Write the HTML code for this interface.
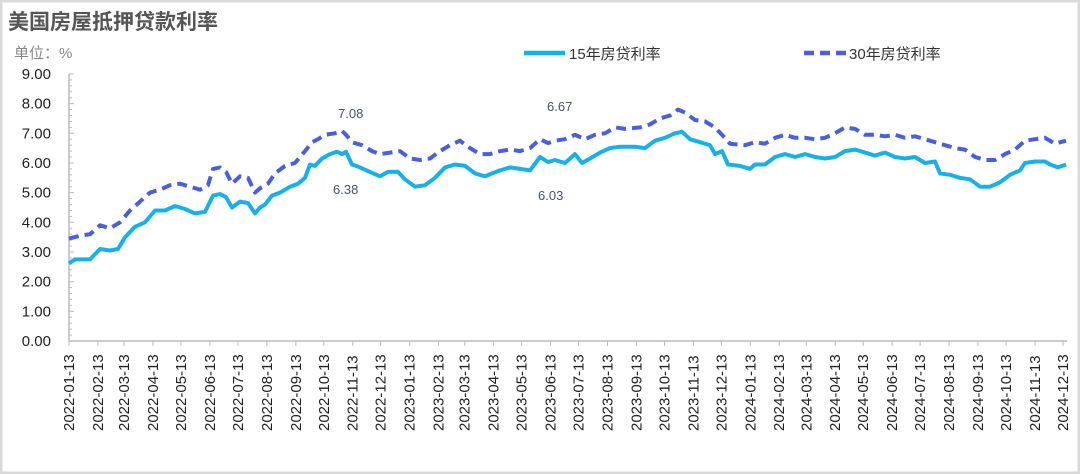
<!DOCTYPE html>
<html><head><meta charset="utf-8"><style>
body{margin:0;width:1080px;height:474px;overflow:hidden;background:#fff}
svg{display:block}
text{font-family:"Liberation Sans","Noto Sans CJK SC",sans-serif}
</style></head><body>
<svg id="s" width="1080" height="474" xmlns="http://www.w3.org/2000/svg">
<rect x="1" y="1" width="1078" height="472" fill="#fff" stroke="#d9d9d9" stroke-width="3"/>
<text x="8" y="29" font-size="21" font-weight="bold" fill="#555">美国房屋抵押贷款利率</text>
<text x="14" y="58" font-size="15" fill="#888">单位：%</text>
<line x1="524" y1="53" x2="565" y2="53" stroke="#17b1e8" stroke-width="4.5"/>
<text x="569" y="59" font-size="15" fill="#333">15年房贷利率</text>
<line x1="804" y1="53" x2="846" y2="53" stroke="#4a5fdc" stroke-width="4.5" stroke-dasharray="10,6"/>
<text x="849" y="59" font-size="15" fill="#333">30年房贷利率</text>
<g id="ax"></g>
<path id="p15" fill="none" stroke="#17b1e8" stroke-width="4" stroke-linejoin="round"/>
<path id="p30" fill="none" stroke="#4a5fdc" stroke-width="4" stroke-dasharray="10,6" stroke-linejoin="round"/>
<g font-size="13" fill="#44546a">
<text x="338" y="118">7.08</text>
<text x="333" y="194">6.38</text>
<text x="538" y="200">6.03</text>
<text x="547" y="111">6.67</text>
</g>
</svg>
<script>
var Y=function(v){return 341-v*29.67};
var a15=[69,2.62,75,2.75,90,2.75,100,3.1,110,3.05,118,3.1,125,3.5,135,3.85,145,4.0,155,4.4,165,4.4,175,4.55,185,4.45,195,4.3,205,4.35,213,4.9,220,4.95,226,4.85,232,4.5,240,4.7,248,4.65,255,4.3,260,4.5,265,4.6,272,4.9,280,5.0,290,5.2,298,5.3,305,5.5,310,5.95,315,5.9,322,6.15,330,6.3,337,6.38,342,6.3,346,6.38,352,5.95,360,5.85,370,5.7,380,5.55,388,5.7,398,5.7,405,5.45,415,5.2,425,5.25,435,5.5,445,5.85,455,5.95,465,5.9,475,5.65,485,5.55,492,5.65,500,5.75,510,5.85,520,5.8,530,5.75,540,6.2,548,6.03,555,6.1,565,6.0,575,6.3,582,6.0,590,6.15,600,6.35,610,6.5,620,6.55,635,6.55,645,6.5,655,6.75,665,6.85,675,7.0,682,7.05,690,6.8,700,6.7,710,6.6,715,6.3,722,6.4,728,5.95,740,5.9,750,5.8,755,5.95,765,5.95,775,6.2,785,6.3,795,6.2,805,6.3,815,6.2,825,6.15,835,6.2,845,6.4,855,6.45,865,6.35,875,6.25,885,6.35,895,6.2,905,6.15,915,6.2,925,6.0,935,6.05,940,5.65,950,5.6,960,5.5,970,5.45,980,5.2,990,5.2,1000,5.35,1010,5.6,1020,5.75,1025,6.0,1035,6.05,1045,6.05,1050,5.95,1058,5.85,1066,5.95];
var a30=[69,3.45,80,3.55,90,3.6,100,3.9,110,3.8,120,4.0,130,4.4,140,4.7,150,5.0,160,5.1,170,5.25,180,5.3,190,5.2,200,5.1,208,5.25,213,5.8,220,5.85,226,5.7,232,5.3,240,5.55,248,5.5,255,5.0,260,5.15,268,5.3,275,5.65,285,5.9,295,6.0,305,6.4,312,6.7,318,6.8,325,6.95,335,7.0,342,7.08,346,6.95,352,6.7,362,6.6,372,6.4,380,6.3,390,6.35,400,6.4,410,6.15,420,6.1,430,6.15,440,6.4,450,6.6,460,6.75,470,6.5,480,6.3,490,6.3,500,6.4,510,6.45,520,6.4,530,6.5,540,6.8,548,6.67,555,6.75,565,6.8,575,6.95,585,6.8,595,6.95,605,7.0,615,7.2,625,7.15,640,7.2,650,7.3,660,7.5,670,7.6,678,7.8,685,7.7,695,7.45,705,7.4,715,7.2,722,6.95,730,6.65,745,6.6,755,6.7,765,6.65,775,6.85,785,6.95,795,6.85,805,6.85,815,6.8,825,6.85,835,7.0,845,7.2,855,7.15,865,6.95,875,6.95,885,6.9,895,6.95,905,6.85,915,6.9,925,6.8,935,6.7,945,6.6,955,6.5,965,6.45,975,6.2,985,6.1,995,6.1,1005,6.3,1015,6.45,1025,6.75,1035,6.8,1045,6.85,1055,6.65,1066,6.75];
function P(a){var d="";for(var i=0;i<a.length;i+=2)d+=(i?"L":"M")+a[i]+","+Y(a[i+1]).toFixed(1);return d}
document.getElementById("p15").setAttribute("d",P(a15));
document.getElementById("p30").setAttribute("d",P(a30));
var g="",ns="";
for(var v=0;v<=9;v++){g+='<text x="51" y="'+(Y(v)+5)+'" font-size="15" fill="#222" text-anchor="end">'+v.toFixed(2)+'</text>';}
for(var v=0;v<=45;v++){var y=Y(v*0.2);g+='<line x1="69" y1="'+y+'" x2="'+(v%5?72:74)+'" y2="'+y+'" stroke="#bbb"/>';}
g+='<line x1="69" y1="74" x2="69" y2="341" stroke="#bbb" stroke-width="1.5"/><line x1="69" y1="341" x2="1067" y2="341" stroke="#bbb" stroke-width="1.5"/>';
var d0=Date.UTC(2022,0,13);
for(var m=0;m<36;m++){var yr=2022+Math.floor(m/12),mo=m%12;var dd=(Date.UTC(yr,mo,13)-d0)/864e5;var x=69+dd*0.9333;
g+='<line x1="'+x+'" y1="341" x2="'+x+'" y2="346" stroke="#bbb"/>';
var lab=yr+"-"+(mo<9?"0":"")+(mo+1)+"-13";
g+='<text transform="translate('+(x+5)+',431) rotate(-90)" font-size="15" fill="#222">'+lab+'</text>';}
document.getElementById("ax").innerHTML=g;
</script>
</body></html>
